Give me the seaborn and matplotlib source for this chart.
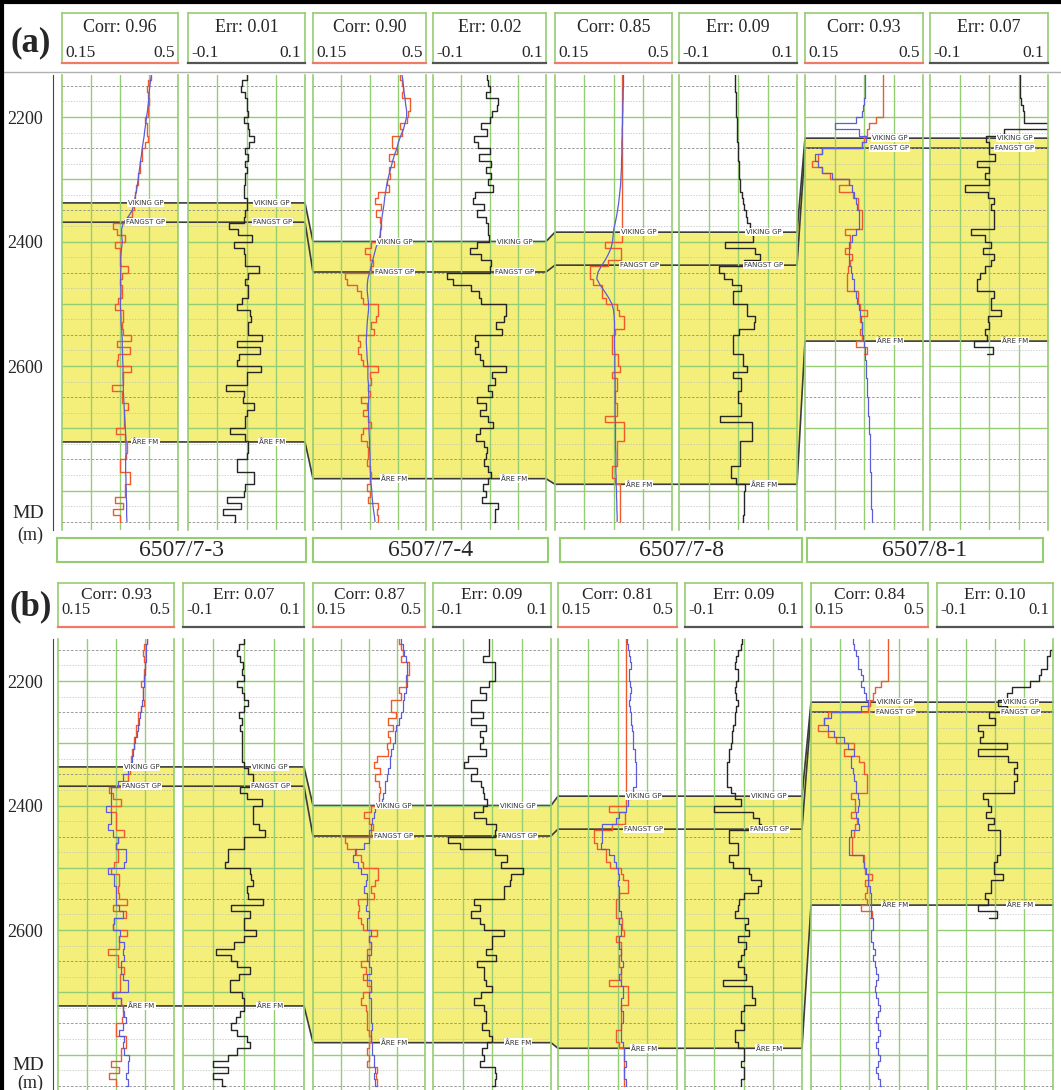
import numpy as np
import pandas as pd
import matplotlib
matplotlib.use("Agg")
import matplotlib.pyplot as plt
from matplotlib.lines import Line2D
from matplotlib.ticker import FixedLocator, MultipleLocator
import seaborn as sns

nan = np.nan

# ---------------- data ----------------
DEPTH = list(range(2135, 2860, 10))      # 10 m samples, 2135 .. 2855 m MD

WELLS = ["6507/7-3", "6507/7-4", "6507/7-8", "6507/8-1"]
TOP_NAMES = ["VIKING GP", "FANGST GP", "ÅRE FM"]
VIKING = [2338, 2400, 2385, 2234]
FANGST = [2369, 2449, 2438, 2250]
ARE = [2722, 2781, 2790, 2560]

CORR_A = [0.96, 0.90, 0.85, 0.93]
ERR_A = [0.01, 0.02, 0.09, 0.07]
CORR_B = [0.93, 0.87, 0.81, 0.84]
ERR_B = [0.07, 0.09, 0.09, 0.10]

# measured porosity (red) and predictions (blue): (a) and (b)
TRUE_7_3 = [
    .420, .410, .405, .410, .412, .410, .410, .400, .405, .405,
    .410, .400, .390, .392, .385, .385, .380, .378, .372, .370,
    .370, .368, .360, .345, .305, .315, .340, .310, .325, .325,
    .325, .350, .330, .325, .330, .330, .320, .310, .333, .335,
    .330, .333, .358, .315, .355, .320, .317, .358, .334, .334,
    .300, .330, .330, .350, .338, .337, .337, .313, .340, .345,
    .345, .343, .325, .325, .355, .355, .340, .340, .310, .335,
    .305, .325, .325]
PRED_A_7_3 = [
    .420, .418, .415, .413, .412, .410, .408, .405, .403, .400,
    .398, .395, .392, .390, .387, .385, .382, .380, .377, .374,
    .370, .367, .362, .350, .335, .330, .330, .332, .330, .328,
    .327, .328, .327, .327, .327, .328, .327, .326, .327, .328,
    .328, .330, .331, .332, .332, .333, .333, .334, .334, .334,
    .335, .335, .336, .337, .338, .339, .340, .341, .342, .343,
    .343, .343, .342, .342, .342, .343, .343, .344, .344, .345,
    .345, .345, .346]
PRED_B_7_3 = [
    .420, .417, .415, .415, .413, .412, .410, .410, .407, .405,
    .402, .400, .398, .395, .390, .387, .383, .380, .375, .372,
    .370, .360, .345, .330, .310, .310, .310, .295, .310, .310,
    .300, .315, .330, .325, .355, .355, .350, .300, .320, .320,
    .325, .325, .325, .335, .345, .320, .317, .338, .334, .350,
    .345, .350, .340, .340, .345, .360, .360, .315, .340, .345,
    .350, .355, .345, .335, .350, .345, .350, .365, .360, .360,
    .355, .360, .355]

TRUE_7_4 = [
    .420, .425, .430, .425, .450, .450, .445, .440, .420, .425,
    .395, .395, .410, .385, .400, .385, .390, .380, .385, .350,
    .342, .360, .345, .357, .360, .357, .357, .330, .310, .325,
    .337, .330, .250, .255, .285, .300, .305, .352, .352, .345,
    .330, .340, .290, .295, .290, .300, .306, .350, .325, .330,
    .320, .326, .300, .316, .306, .320, .330, .306, .300, .316,
    .320, .320, .318, .325, .330, .326, .318, .326, .320, .350,
    .347, .350, .350]
PRED_A_7_4 = [
    .425, .428, .430, .432, .435, .437, .440, .440, .435, .430,
    .422, .415, .410, .403, .397, .392, .387, .382, .378, .375,
    .372, .370, .367, .364, .362, .360, .358, .352, .345, .340,
    .335, .330, .325, .320, .318, .318, .320, .322, .322, .320,
    .318, .317, .316, .315, .316, .317, .318, .320, .320, .320,
    .322, .322, .323, .322, .322, .322, .323, .323, .324, .325,
    .325, .326, .327, .327, .328, .328, .330, .332, .333, .335,
    .337, .340, .342]
PRED_B_7_4 = [
    .425, .430, .435, .440, .445, .445, .440, .445, .440, .435,
    .430, .430, .425, .420, .410, .405, .405, .400, .395, .390,
    .390, .385, .380, .375, .375, .370, .365, .345, .340, .335,
    .330, .325, .325, .310, .280, .275, .290, .300, .320, .315,
    .310, .320, .320, .315, .325, .320, .320, .330, .325, .330,
    .330, .320, .325, .330, .320, .330, .330, .325, .330, .330,
    .330, .330, .335, .330, .330, .335, .335, .340, .340, .345,
    .340, .345, .350]

TRUE_7_8 = [
    .350, .350, .350, .350, .350, .350, .350, .350, .350, .350,
    .350, .350, .350, .350, .350, .350, .350, .350, .350, .350,
    .350, .350, .350, .350, .350, .350, .350, .300, .347, .347,
    .310, .255, .255, .265, .290, .290, .302, .335, .340, .355,
    .355, .330, .320, .320, .320, .337, .337, .345, .320, .335,
    .335, .330, .330, .335, .335, .300, .355, .355, .355, .335,
    .335, .335, .335, .320, .320, .330, .345, .345, .345, .345,
    .345, .345, .345]
PRED_A_7_8 = [
    .355, .355, .355, .354, .354, .353, .353, .352, .352, .351,
    .351, .350, .350, .350, .349, .349, .348, .347, .346, .344,
    .342, .340, .337, .334, .330, .326, .324, .322, .318, .310,
    .300, .288, .278, .275, .285, .298, .310, .320, .325, .327,
    .328, .328, .328, .328, .328, .329, .329, .329, .329, .330,
    .330, .330, .330, .330, .330, .330, .331, .331, .331, .331,
    .331, .332, .332, .332, .332, .333, .333, .334, .334, .335,
    .335, .336, .336]
PRED_B_7_8 = [
    .353, .355, .360, .362, .365, .360, .360, .362, .365, .362,
    .360, .362, .365, .365, .368, .370, .370, .372, .375, .375,
    .378, .378, .378, .378, .372, .365, .355, .350, .330, .320,
    .280, .280, .280, .275, .300, .315, .320, .325, .328, .325,
    .330, .330, .328, .330, .335, .330, .335, .335, .330, .330,
    .335, .335, .340, .335, .330, .335, .340, .340, .335, .335,
    .340, .340, .335, .335, .335, .340, .345, .345, .350, .345,
    .345, .350, .350]

TRUE_8_1 = [
    .380, .380, .380, .380, .380, .380, .380, .360, .340, .335,
    .325, .320, .200, .190, .170, .200, .224, .280, .250, .293,
    .308, .308, .318, .318, .318, .270, .283, .283, .270, .288,
    .283, .278, .274, .274, .274, .308, .308, .313, .333, .313,
    .318, .313, .318, .300, .333, .325, nan, nan, nan, nan,
    nan, nan, nan, nan, nan, nan, nan, nan, nan, nan,
    nan, nan, nan, nan, nan, nan, nan, nan, nan, nan,
    nan, nan, nan]
PRED_A_8_1 = [
    .328, .328, .328, .328, .325, .322, .320, .300, .240, .310,
    .330, .320, .200, .180, .190, .200, .230, .280, .290, .295,
    .300, .305, .310, .310, .310, .300, .290, .280, .280, .280,
    .280, .285, .290, .295, .295, .300, .305, .310, .312, .315,
    .318, .320, .322, .325, .327, .329, .330, .331, .332, .333,
    .334, .335, .336, .337, .338, .339, .340, .341, .342, .342,
    .343, .343, .344, .344, .345, .345, .346, .346, .347, .347,
    .348, .348, .348]
PRED_B_8_1 = [
    .277, .280, .285, .290, .290, .300, .305, .300, .310, .315,
    .320, .300, .210, .190, .200, .220, .250, .260, .280, .270,
    .270, .275, .280, .285, .285, .290, .295, .290, .285, .290,
    .295, .270, .265, .265, .265, .305, .310, .315, .320, .320,
    .325, .330, .330, .330, .330, .335, .335, .330, .330, .335,
    .340, .335, .340, .345, .350, .345, .340, .345, .350, .355,
    .350, .345, .350, .355, .350, .345, .350, .355, .350, .345,
    .350, .355, .360]

TRUE = [TRUE_7_3, TRUE_7_4, TRUE_7_8, TRUE_8_1]
PRED_A = [PRED_A_7_3, PRED_A_7_4, PRED_A_7_8, PRED_A_8_1]
PRED_B = [PRED_B_7_3, PRED_B_7_4, PRED_B_7_8, PRED_B_8_1]

# ---------------- layout / style ----------------
W, H = 1061, 1090
PX_PER_M = 0.6225
GREEN = "#95cd72"
YELLOW = "#f4ef7a"
RED = "#ef5a2a"
BLUE = "#5c5cd8"
BLACK = "#262626"
TOPLINE = "#3c3c3c"

PANELS = [
    dict(tag="(a)", tag_y=43, corr=CORR_A, err=ERR_A, pred=PRED_A,
         steps=[False, False, False, True],
         tracks=[(62, 178), (188, 305), (313, 426), (433, 546),
                 (555, 672), (679, 797), (805, 923), (930, 1048)],
         y_top=75, y_bot=530, y2200=117, head=(13, 63), title_y=0.70, scale_y=0.20,
         fs_title=13, fs_scale=12.5, md_y=514, m_y=535),
    dict(tag="(b)", tag_y=607, corr=CORR_B, err=ERR_B, pred=PRED_B,
         steps=[True, True, True, True],
         tracks=[(58, 174), (183, 304), (313, 425), (433, 551),
                 (558, 677), (685, 802), (811, 928), (937, 1053)],
         y_top=639, y_bot=1090, y2200=681, head=(583, 627), title_y=0.73, scale_y=0.39,
         fs_title=12.5, fs_scale=12, md_y=1066, m_y=1083),
]
NAME_BOXES = [(57, 306), (313, 548), (560, 802), (807, 1043)]

sns.set_style("white")
plt.rcParams["font.family"] = ["Liberation Serif", "DejaVu Serif"]

fig = plt.figure(figsize=(W / 100, H / 100), dpi=100)


def px_axes(x0, y0, x1, y1):
    return fig.add_axes([x0 / W, 1 - y1 / H, (x1 - x0) / W, (y1 - y0) / H])


for P in PANELS:
    d_top = 2200 + (P["y_top"] - P["y2200"]) / PX_PER_M
    d_bot = 2200 + (P["y_bot"] - P["y2200"]) / PX_PER_M
    tr = P["tracks"]

    # yellow zones + correlation lines (behind the tracks)
    ov = px_axes(0, P["y_top"], W, P["y_bot"])
    ov.set_xlim(0, W)
    ov.set_ylim(d_bot, d_top)
    ov.axis("off")
    for i in range(4):
        for (a, b) in (tr[2 * i], tr[2 * i + 1]):
            ov.fill([a, b, b, a], [VIKING[i], VIKING[i], ARE[i], ARE[i]], color=YELLOW, lw=0)
        if i < 3:
            r, nl = tr[2 * i + 1][1], tr[2 * i + 2][0]
            ov.fill([r, nl, nl, r], [VIKING[i], VIKING[i + 1], ARE[i + 1], ARE[i]],
                    color=YELLOW, lw=0)
    xs = [x for i in range(4) for x in (tr[2 * i][0], tr[2 * i + 1][1])]
    for tops in (VIKING, FANGST, ARE):
        ys = [d for d in tops for _ in (0, 1)]
        ov.plot(xs, ys, color=TOPLINE, lw=1.2)

    # depth axis
    dax = px_axes(53, P["y_top"], 54, P["y_bot"])
    dax.set_facecolor("none")
    dax.set_ylim(d_bot, d_top)
    for s in ("top", "right", "bottom"):
        dax.spines[s].set_visible(False)
    dax.spines["left"].set_color("#444444")
    dax.set_xticks([])
    dax.yaxis.set_major_locator(FixedLocator([2200, 2400, 2600]))
    dax.yaxis.set_minor_locator(MultipleLocator(10))
    dax.tick_params(axis="y", which="major", length=6, labelsize=13, pad=1, color="#444444")
    dax.tick_params(axis="y", which="minor", length=3, color="#666666")
    fig.text(28 / W, 1 - P["md_y"] / H, "MD", fontsize=14, ha="center", va="center")
    fig.text(30 / W, 1 - P["m_y"] / H, "(m)", fontsize=13, ha="center", va="center")
    fig.text(31 / W, 1 - P["tag_y"] / H, P["tag"], fontsize=25, fontweight="bold",
             ha="center", va="center")

    for k, (x0, x1) in enumerate(tr):
        w = k // 2
        is_err = k % 2 == 1
        lo, hi = (-0.1, 0.1) if is_err else (0.15, 0.5)
        df = pd.DataFrame({"depth": np.array(DEPTH) - 5,
                           "true": TRUE[w], "pred": P["pred"][w]})
        df["err"] = df["true"] - df["pred"]

        ax = px_axes(x0, P["y_top"], x1, P["y_bot"])
        ax.set_facecolor("none")
        if is_err:
            sns.lineplot(data=df, x="err", y="depth", ax=ax, orient="y", estimator=None,
                         color=BLACK, linewidth=1.0, drawstyle="steps-pre", legend=False)
        else:
            sns.lineplot(data=df, x="true", y="depth", ax=ax, orient="y", estimator=None,
                         color=RED, linewidth=1.0, drawstyle="steps-pre", legend=False)
            sns.lineplot(data=df, x="pred", y="depth", ax=ax, orient="y", estimator=None,
                         color=BLUE, linewidth=0.9, legend=False,
                         drawstyle="steps-pre" if P["steps"][w] else "default")
        ax.set_xlim(lo, hi)
        ax.set_ylim(d_bot, d_top)
        ax.set_xlabel("")
        ax.set_ylabel("")
        ax.set_xticks([])
        ax.set_yticks([])

        for d in range(2150, 2860, 25):
            if d % 100 == 0:
                ax.axhline(d, color=GREEN, lw=1.0, zorder=0.5)
            elif d % 50 == 0:
                ax.axhline(d, color="#8c8c8c", lw=0.6, ls=(0, (3, 2)), zorder=0.5)
            else:
                ax.axhline(d, color="#bdbdbd", lw=0.5, ls=(0, (2, 2)), zorder=0.5)
        for q in (0.25, 0.5, 0.75):
            ax.axvline(lo + q * (hi - lo), color=GREEN, lw=1.0, zorder=0.5)
        for s in ("top", "bottom"):
            ax.spines[s].set_visible(False)
        for s in ("left", "right"):
            ax.spines[s].set_color(GREEN)
            ax.spines[s].set_linewidth(1.2)

        for name, dep in zip(TOP_NAMES, (VIKING[w], FANGST[w], ARE[w])):
            ax.text(lo + 0.72 * (hi - lo), dep, name, fontsize=5, family="DejaVu Sans",
                    color="#333333", ha="center", va="center", zorder=6,
                    bbox=dict(facecolor="white", edgecolor="none", pad=0.7))

        # header box
        hy0, hy1 = P["head"]
        hx = px_axes(x0, hy0, x1, hy1)
        hx.set_xlim(lo, hi)
        hx.set_ylim(0, 1)
        hcol = "#555555" if is_err else "#f07a68"
        for s in ("top", "left", "right"):
            hx.spines[s].set_color(GREEN)
            hx.spines[s].set_linewidth(1.2)
        hx.spines["bottom"].set_color(hcol)
        hx.spines["bottom"].set_linewidth(1.6)
        hx.set_xticks([lo, (lo + hi) / 2, hi])
        hx.set_yticks([])
        hx.tick_params(axis="x", direction="in", length=4, width=1, color=hcol,
                       labelbottom=False)
        title = f"Err: {P['err'][w]:.2f}" if is_err else f"Corr: {P['corr'][w]:.2f}"
        lo_txt, hi_txt = ("-0.1", "0.1") if is_err else ("0.15", "0.5")
        hx.text(0.5, P["title_y"], title, transform=hx.transAxes, ha="center",
                va="center", fontsize=P["fs_title"])
        hx.text(0.03, P["scale_y"], lo_txt, transform=hx.transAxes, ha="left",
                va="center", fontsize=P["fs_scale"])
        hx.text(0.97, P["scale_y"], hi_txt, transform=hx.transAxes, ha="right",
                va="center", fontsize=P["fs_scale"])

# well name boxes between the panels
for name, (x0, x1) in zip(WELLS, NAME_BOXES):
    bx = px_axes(x0, 538, x1, 562)
    bx.set_xticks([])
    bx.set_yticks([])
    for s in bx.spines.values():
        s.set_color(GREEN)
        s.set_linewidth(1.5)
    bx.text(0.5, 0.5, name, transform=bx.transAxes, ha="center", va="center", fontsize=17)

# separator and frame
fig.add_artist(Line2D([0, 1], [1 - 72 / H] * 2, color="#b0b0b0", lw=1))
fig.add_artist(Line2D([0, 1], [1 - 1.5 / H] * 2, color="black", lw=3))
fig.add_artist(Line2D([1.5 / W] * 2, [0, 1], color="black", lw=3))

fig.savefig("out.png", dpi=100)
